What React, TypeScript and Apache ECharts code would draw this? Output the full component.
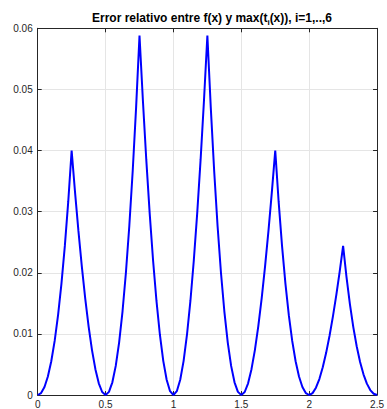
import React, { useEffect, useRef } from "react";
import * as echarts from "echarts";

const xValues = [
  0, 0.025, 0.05, 0.075, 0.1, 0.125, 0.15, 0.175, 0.2, 0.225,
  0.25, 0.275, 0.3, 0.325, 0.35, 0.375, 0.4, 0.425, 0.45, 0.475,
  0.5, 0.525, 0.55, 0.575, 0.6, 0.625, 0.65, 0.675, 0.7, 0.725,
  0.75, 0.775, 0.8, 0.825, 0.85, 0.875, 0.9, 0.925, 0.95, 0.975,
  1.0, 1.025, 1.05, 1.075, 1.1, 1.125, 1.15, 1.175, 1.2, 1.225,
  1.25, 1.275, 1.3, 1.325, 1.35, 1.375, 1.4, 1.425, 1.45, 1.475,
  1.5, 1.525, 1.55, 1.575, 1.6, 1.625, 1.65, 1.675, 1.7, 1.725,
  1.75, 1.775, 1.8, 1.825, 1.85, 1.875, 1.9, 1.925, 1.95, 1.975,
  2.0, 2.025, 2.05, 2.075, 2.1, 2.125, 2.15, 2.175, 2.2, 2.225,
  2.25, 2.275, 2.3, 2.325, 2.35, 2.375, 2.4, 2.425, 2.45, 2.475,
  2.5,
];

const errorValues = [
  0, 0.00032, 0.001314, 0.003031, 0.005525, 0.00885, 0.013062, 0.018222, 0.02439, 0.031628,
  0.04, 0.033183, 0.026846, 0.021039, 0.015817, 0.011236, 0.007353, 0.004227, 0.001919, 0.00049,
  0, 0.00051, 0.002079, 0.004764, 0.008621, 0.013699, 0.020045, 0.027699, 0.036697, 0.047066,
  0.058824, 0.048186, 0.038462, 0.029715, 0.022005, 0.015385, 0.009901, 0.005594, 0.002494, 0.000625,
  0, 0.000625, 0.002494, 0.005594, 0.009901, 0.015385, 0.022005, 0.029715, 0.038462, 0.048186,
  0.058824, 0.047066, 0.036697, 0.027699, 0.020045, 0.013699, 0.008621, 0.004764, 0.002079, 0.00051,
  0, 0.00049, 0.001919, 0.004227, 0.007353, 0.011236, 0.015817, 0.021039, 0.026846, 0.033183,
  0.04, 0.031628, 0.02439, 0.018222, 0.013062, 0.00885, 0.005525, 0.003031, 0.001314, 0.00032,
  0, 0.000305, 0.001189, 0.002609, 0.004525, 0.006897, 0.009688, 0.012864, 0.016393, 0.020245,
  0.02439, 0.019281, 0.01487, 0.011113, 0.007972, 0.005405, 0.003378, 0.001856, 0.000806, 0.000197,
  0,
];

const xTicks = [0, 0.5, 1, 1.5, 2, 2.5];
const yTicks = [0, 0.01, 0.02, 0.03, 0.04, 0.05, 0.06];

const FONT = "'Liberation Sans', Arial, Helvetica, sans-serif";
const AXIS_COLOR = "#262626";

export default function App() {
  const ref = useRef<HTMLDivElement>(null);

  useEffect(() => {
    if (!ref.current) return;
    const chart = echarts.init(ref.current, null, { renderer: "svg" });
    const data = xValues.map((x, i) => [x, errorValues[i]]);
    const xMin = xTicks[0];
    const xMax = xTicks[xTicks.length - 1];
    const yMin = yTicks[0];
    const yMax = yTicks[yTicks.length - 1];
    const xStep = xTicks[1] - xTicks[0];
    const yStep = yTicks[1] - yTicks[0];

    const axisLine = { show: true, onZero: false, lineStyle: { color: AXIS_COLOR, width: 1 } };
    const axisTickIn = { show: true, inside: true, length: 4, lineStyle: { color: AXIS_COLOR } };

    chart.setOption({
      animation: false,
      backgroundColor: "#ffffff",
      title: {
        text: "Error relativo entre f(x) y max(t{sub|i}(x)), i=1,..,6",
        left: 207,
        textAlign: "center",
        top: 5,
        textStyle: {
          fontFamily: FONT,
          fontSize: 12,
          fontWeight: "bold",
          color: "#000000",
          rich: {
            sub: {
              fontFamily: FONT,
              fontSize: 8,
              fontWeight: "bold",
              color: "#000000",
              verticalAlign: "bottom",
              padding: [8, 0, 0, 0],
            },
          },
        },
      },
      grid: { left: 37.7, right: 7.7, top: 28.3, bottom: 14, containLabel: false },
      xAxis: [
        {
          type: "value",
          min: xMin,
          max: xMax,
          interval: xStep,
          position: "bottom",
          axisLine,
          axisTick: axisTickIn,
          axisLabel: {
            color: AXIS_COLOR,
            fontFamily: FONT,
            fontSize: 10,
            margin: 4,
            formatter: (v: number) => String(v),
          },
          splitLine: { show: true, lineStyle: { color: "#e5e5e5", width: 1 } },
        },
        {
          type: "value",
          min: xMin,
          max: xMax,
          interval: xStep,
          position: "top",
          axisLine,
          axisTick: axisTickIn,
          axisLabel: { show: false },
          splitLine: { show: false },
        },
      ],
      yAxis: [
        {
          type: "value",
          min: yMin,
          max: yMax,
          interval: yStep,
          position: "left",
          axisLine,
          axisTick: axisTickIn,
          axisLabel: {
            color: AXIS_COLOR,
            fontFamily: FONT,
            fontSize: 10,
            margin: 5,
            formatter: (v: number) => String(Math.round(v * 100) / 100),
          },
          splitLine: { show: true, lineStyle: { color: "#e5e5e5", width: 1 } },
        },
        {
          type: "value",
          min: yMin,
          max: yMax,
          interval: yStep,
          position: "right",
          axisLine,
          axisTick: axisTickIn,
          axisLabel: { show: false },
          splitLine: { show: false },
        },
      ],
      series: [
        {
          type: "line",
          xAxisIndex: 0,
          yAxisIndex: 0,
          data,
          showSymbol: false,
          smooth: false,
          lineStyle: { color: "#0000ff", width: 2 },
          clip: true,
        },
      ],
    });
    return () => chart.dispose();
  }, []);

  return (
    <div
      ref={ref}
      style={{ position: "fixed", left: 0, top: 0, width: 387, height: 409, background: "#fff" }}
    />
  );
}
